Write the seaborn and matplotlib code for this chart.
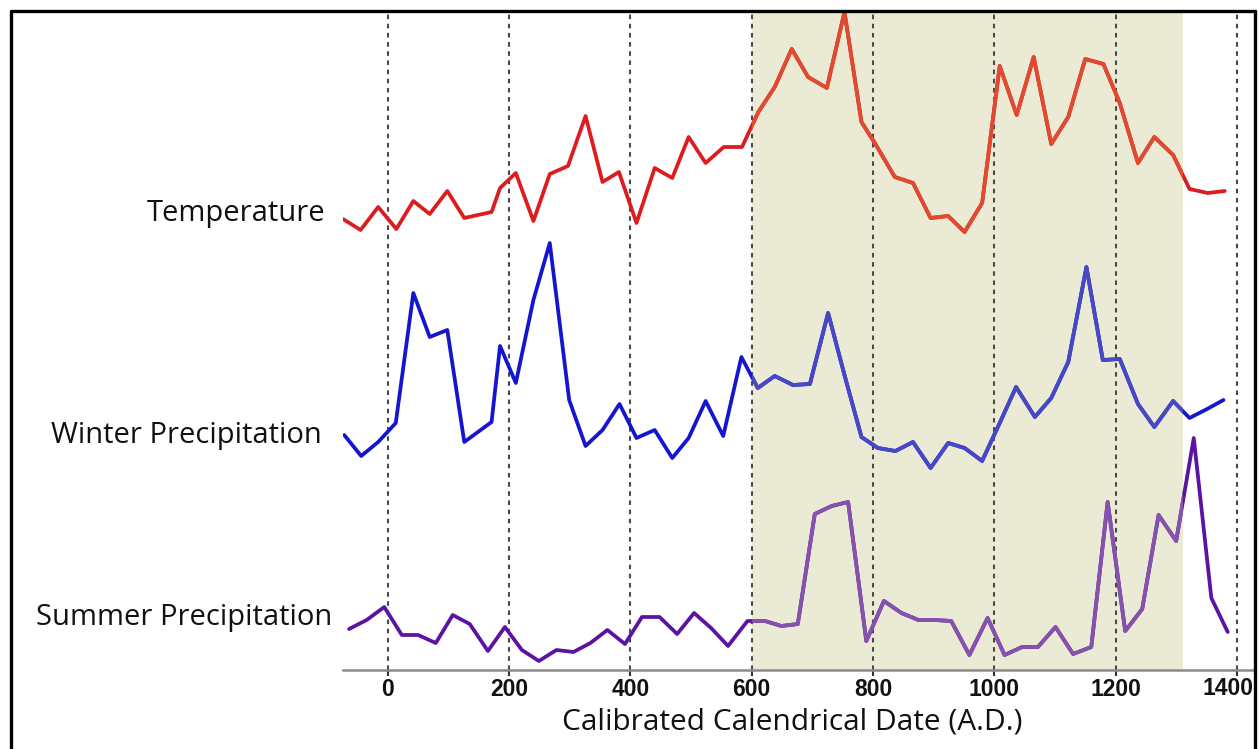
import numpy as np
import pandas as pd
import seaborn as sns
import matplotlib
matplotlib.use("Agg")
import matplotlib.pyplot as plt
from matplotlib.lines import Line2D

# ---------------- data (relative index values) ----------------
temp_years = [-74, -45, -16, 14, 42, 69, 98, 126, 171, 185,
              211, 240, 267, 297, 326, 354, 381, 410, 440, 469,
              496, 524, 554, 584, 611, 638, 666, 693, 724, 753,
              781, 803, 836, 866, 895, 924, 951, 980, 1009, 1037,
              1065, 1094, 1122, 1150, 1180, 1207, 1237, 1264, 1295, 1322,
              1352, 1380]
temp_values = [45.1, 44.0, 46.3, 44.1, 46.9, 45.6, 47.9, 45.2, 45.8, 48.2,
               49.7, 44.9, 49.6, 50.4, 55.4, 48.8, 49.8, 44.7, 50.2, 49.2,
               53.3, 50.7, 52.3, 52.3, 55.8, 58.3, 62.1, 59.3, 58.2, 65.8,
               54.8, 52.7, 49.3, 48.7, 45.2, 45.4, 43.8, 46.7, 60.4, 55.5,
               61.3, 52.6, 55.3, 61.1, 60.6, 56.7, 50.7, 53.3, 51.5, 48.1,
               47.7, 47.9]

winter_years = [-72, -44, -16, 13, 42, 69, 98, 126, 171, 185,
                211, 240, 267, 299, 326, 354, 382, 410, 440, 469,
                496, 524, 553, 583, 610, 638, 668, 696, 726, 753,
                781, 808, 837, 866, 895, 924, 951, 980, 1009, 1036,
                1067, 1094, 1122, 1152, 1179, 1207, 1237, 1264, 1295, 1322,
                1351, 1378]
winter_values = [23.5, 21.4, 22.8, 24.7, 37.7, 33.3, 34.0, 22.8, 24.8, 32.4,
                 28.7, 37.0, 42.7, 27.0, 22.4, 24.0, 26.6, 23.2, 24.0, 21.2,
                 23.2, 26.9, 23.4, 31.3, 28.2, 29.4, 28.5, 28.6, 35.7, 29.5,
                 23.3, 22.2, 21.9, 22.8, 20.2, 22.7, 22.2, 20.9, 24.7, 28.3,
                 25.3, 27.2, 30.8, 40.3, 31.0, 31.1, 26.6, 24.3, 26.9, 25.2,
                 26.1, 27.0]

summer_years = [-64, -35, -6, 23, 50, 79, 107, 135, 165, 193,
                221, 249, 278, 306, 334, 362, 391, 419, 448, 477,
                505, 533, 561, 593, 622, 649, 676, 704, 732, 759,
                789, 818, 847, 875, 902, 929, 959, 989, 1017, 1046,
                1072, 1101, 1130, 1160, 1187, 1216, 1244, 1271, 1300, 1329,
                1358, 1385]
summer_values = [4.1, 5.0, 6.3, 3.5, 3.5, 2.7, 5.5, 4.6, 1.9, 4.3,
                 2.0, 0.9, 2.0, 1.8, 2.7, 4.0, 2.6, 5.3, 5.3, 3.6,
                 5.7, 4.2, 2.4, 4.9, 4.9, 4.4, 4.6, 15.6, 16.4, 16.8,
                 2.9, 6.9, 5.7, 5.0, 5.0, 4.9, 1.5, 5.2, 1.5, 2.3,
                 2.3, 4.3, 1.6, 2.3, 16.8, 3.9, 6.1, 15.5, 12.9, 23.2,
                 7.2, 3.8]

series_names = ["Temperature", "Winter Precipitation", "Summer Precipitation"]
tick_years = [0, 200, 400, 600, 800, 1000, 1200, 1400]
tick_labels = ["0", "200", "400", "600", "800", "1000", "1200", "1400"]
shade_start, shade_end = 600, 1312

# ---------------- styling ----------------
sns.set_theme(style="white")
plt.rcParams["font.family"] = ["Open Sans", "DejaVu Sans"]

W, H = 1259, 749
fig = plt.figure(figsize=(W / 100, H / 100), dpi=100)
fig.patch.set_facecolor("white")

def fx(px):
    return px / W

def fy(py):
    return 1 - py / H

ax = fig.add_axes([fx(343), fy(670), fx(1255) - fx(343), fy(10) - fy(670)])
ax.set_facecolor("white")

span = ax.axvspan(shade_start, shade_end, color="#ebebd5", zorder=0.2, lw=0)

outside_colors = ["#dc1c1e", "#1515d0", "#5c12a2"]
inside_colors = ["#e04a30", "#4848c6", "#8552ac"]
all_x = [temp_years, winter_years, summer_years]
all_y = [temp_values, winter_values, summer_values]

for name, xs, ys, c_out, c_in in zip(series_names, all_x, all_y, outside_colors, inside_colors):
    df = pd.DataFrame({"year": xs, "value": ys})
    sns.lineplot(data=df, x="year", y="value", ax=ax, color=c_out, lw=2.7,
                 estimator=None, zorder=3)
    sns.lineplot(data=df, x="year", y="value", ax=ax, color=c_in, lw=2.7,
                 estimator=None, zorder=4)
    ax.lines[-1].set_clip_path(span)

tick_font = dict(fontfamily="Liberation Sans", fontweight="bold", fontsize=16.5,
                 color="#111111")
ax.set_xlim(-74, 1430)
ax.set_ylim(0, 66)
ax.set_xticks(tick_years)
# the last label sits against the frame in the reference: drawn shifted left
ax.set_xticklabels(tick_labels[:-1] + [""], **tick_font)
ax.annotate(tick_labels[-1], xy=(tick_years[-1], 0), xycoords=("data", "axes fraction"),
            xytext=(-6.5, -4.9), textcoords="offset points", ha="center", va="top",
            annotation_clip=False, **tick_font)
ax.set_yticks([])
ax.set_xlabel("")
ax.set_ylabel("")

ax.set_axisbelow(True)
ax.xaxis.grid(True, linestyle=(0, (2.2, 2.2)), color="#4a4a4a", lw=1.5, zorder=1)
ax.yaxis.grid(False)

for s in ["top", "left", "right"]:
    ax.spines[s].set_visible(False)
ax.spines["bottom"].set_color("#8a8a8a")
ax.spines["bottom"].set_linewidth(1.8)
ax.tick_params(axis="x", direction="out", length=4, width=1.5, color="#333333",
               pad=2, bottom=True)

# series labels
label_pos = [(325, 213), (322, 435), (332, 617)]
for name, (px, py) in zip(series_names, label_pos):
    fig.text(fx(px), fy(py), name, ha="right", va="center", fontsize=21,
             color="#111111")

fig.text(fx(792), fy(722), "Calibrated Calendrical Date (A.D.)", ha="center",
         va="center", fontsize=21.5, color="#111111")

# outer frame (open at the bottom)
frame_kw = dict(transform=fig.transFigure, color="black", lw=2.4, solid_capstyle="butt")
fig.add_artist(Line2D([fx(11), fx(11)], [0, fy(10)], **frame_kw))
fig.add_artist(Line2D([fx(10), fx(1256)], [fy(11), fy(11)], **frame_kw))
fig.add_artist(Line2D([fx(1255), fx(1255)], [0, fy(10)], **frame_kw))

fig.savefig("out.png", dpi=100, facecolor="white")
